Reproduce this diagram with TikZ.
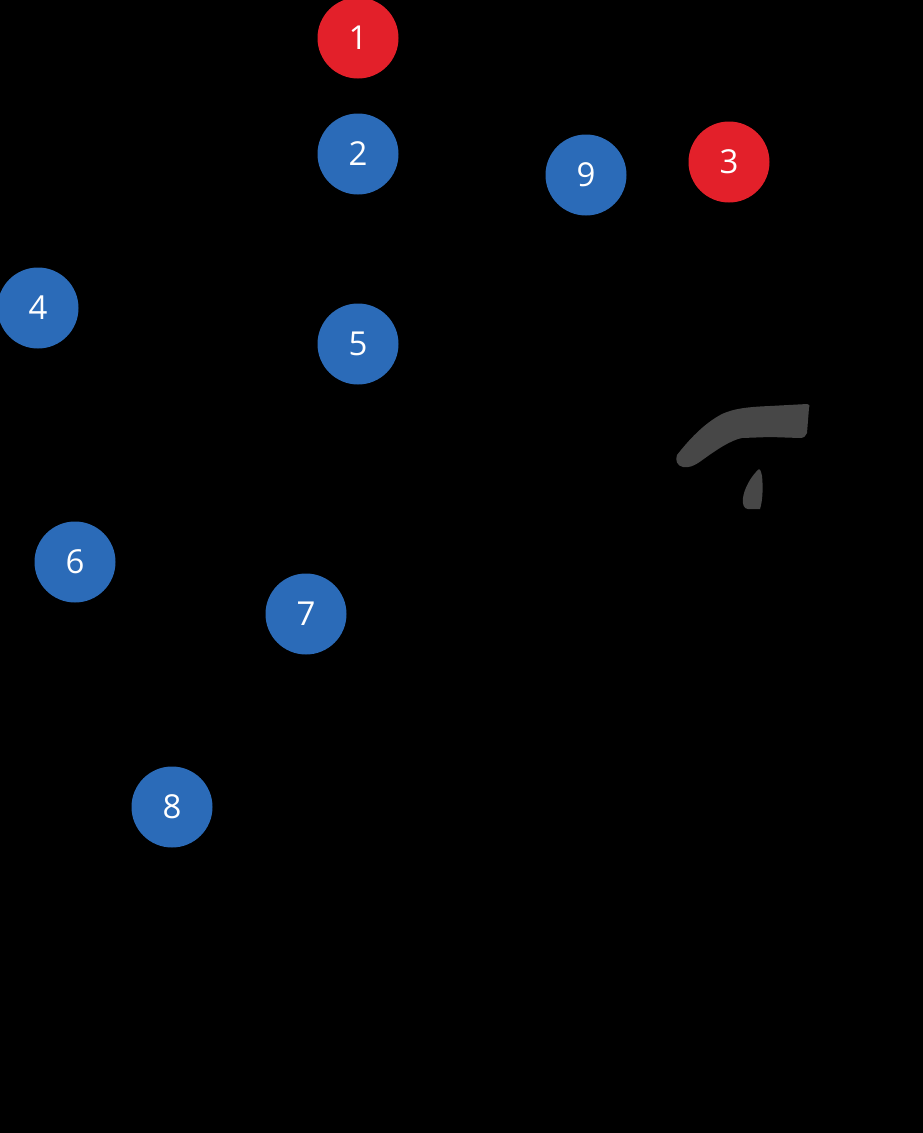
\documentclass[tikz,border=0pt]{standalone}
\usepackage{fontspec}
\setsansfont{Open Sans}
\usetikzlibrary{positioning}
\definecolor{markblue}{HTML}{2B6BB8}
\definecolor{markred}{HTML}{E3202A}
\definecolor{shadegray}{HTML}{474747}

\begin{document}
\begin{tikzpicture}[
  x=1pt, y=-1pt,
  font=\sffamily,
  numdot/.style={circle, minimum size=81pt, inner sep=0pt, text=white, font=\sffamily\fontsize{33}{33}\selectfont},
  bdot/.style  ={numdot, fill=markblue},
  rdot/.style  ={numdot, fill=markred},
]

% ---------- background ----------
\fill[black] (0,0) rectangle (923,1133);
\useasboundingbox (0,0) rectangle (923,1133);

% ---------- red markers ----------
\node[rdot] (m1) at (358,38)  {1};
\node[rdot] (m3) at (729,162) {3};

% ---------- blue markers ----------
\node[bdot] (m2) at (358,154) {2};
\node[bdot] (m9) at (586,175) {9};
\node[bdot] (m4) at (38,308)  {4};
\node[bdot] (m5) at (358,344) {5};
\node[bdot] (m6) at (75,562)  {6};
\node[bdot] (m7) at (306,614) {7};
\node[bdot] (m8) at (172,807) {8};

% ---------- gray hook & drop ----------
\fill[shadegray] (677,455) .. controls (688,441) and (703,424) .. (722,414)
  .. controls (733,409) and (745,407) .. (770,406)
  -- (807,404) .. controls (810,405) and (810,406) .. (809,408)
  -- (807,433) .. controls (806,436) and (804,438) .. (800,438)
  -- (770,437) -- (742,438)
  .. controls (731,440) and (716,450) .. (701,461)
  .. controls (694,466) and (689,468) .. (683,467)
  .. controls (677,466) and (675,460) .. (677,455) -- cycle;
\fill[shadegray] (759,469) .. controls (751,476) and (744,489) .. (743,498)
  .. controls (742,504) and (744,509) .. (748,509)
  -- (760,509) .. controls (763,500) and (763,485) .. (762,476)
  .. controls (761,471) and (760,469) .. (759,469) -- cycle;

\end{tikzpicture}
\end{document}
